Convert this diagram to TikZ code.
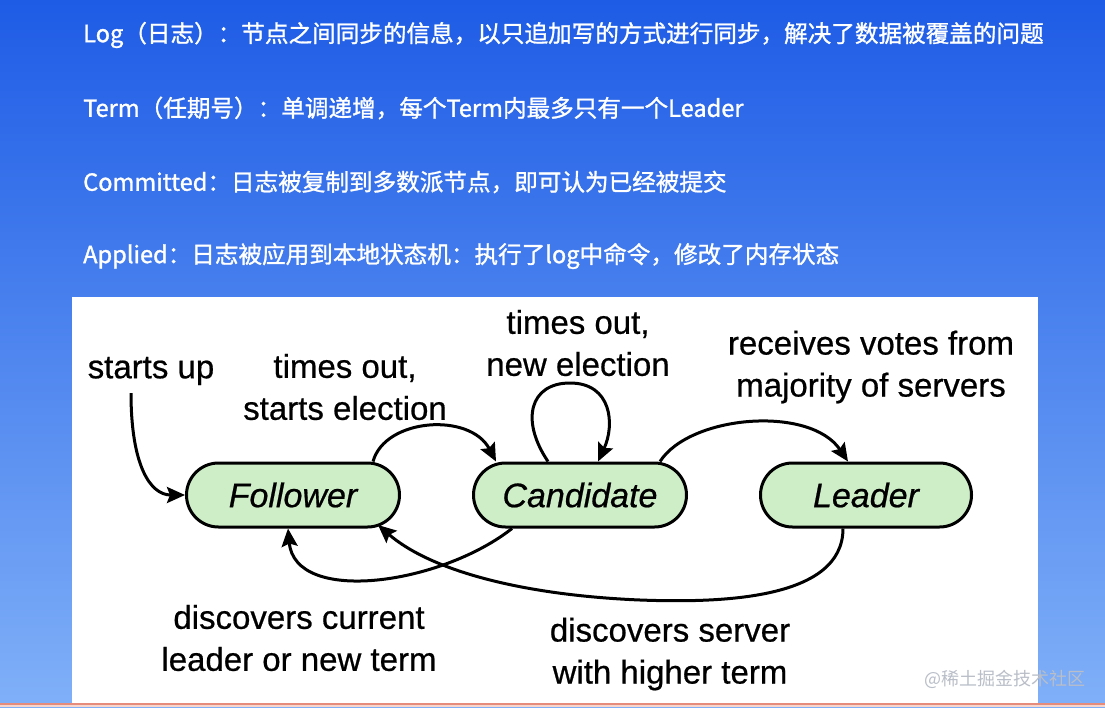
\documentclass[tikz,border=0pt]{standalone}
\usepackage{fontspec}
\setmainfont{Liberation Sans}
\newfontfamily\cjk[FakeBold=1.2]{Noto Sans CJK SC}
\newfontfamily\cjkw{Noto Sans CJK SC}
\newfontfamily\diag[FakeBold=0.6]{Liberation Sans}
\usetikzlibrary{arrows.meta}
\definecolor{bgtop}{RGB}{30,92,230}
\definecolor{bgbot}{RGB}{128,176,248}
\definecolor{nodegreen}{RGB}{206,238,200}
\definecolor{wmark}{RGB}{185,190,200}
\definecolor{redline}{RGB}{230,140,125}
\definecolor{pinkline}{RGB}{246,214,205}
\tikzset{
  toptext/.style={anchor=west,text=white,font=\cjk\fontsize{23.6}{27}\selectfont,inner sep=0pt},
  state/.style={draw=black,line width=3pt,fill=nodegreen,rounded corners=32pt,
    minimum width=213pt,minimum height=64pt,inner sep=0pt,
    font=\diag\itshape\fontsize{34}{40}\selectfont},
  lbl/.style={align=center,font=\diag\fontsize{33}{42}\selectfont,inner sep=0pt},
  arr/.style={line width=3pt,-{Stealth[length=18pt,width=16pt,inset=3pt]}},
}
\begin{document}
\begin{tikzpicture}[x=1pt,y=-1pt]
\useasboundingbox (0,0) rectangle (1105,707);
% background
\shade[top color=bgtop,bottom color=bgbot] (0,0) rectangle (1105,707);
% top texts
\node[toptext] (t1) at (83,35) {Log（日志）：节点之间同步的信息，以只追加写的方式进行同步，解决了数据被覆盖的问题};
\node[toptext] (t2) at (83,108) {Term（任期号）：单调递增，每个Term内最多只有一个Leader};
\node[toptext] (t3) at (83,182) {Committed：日志被复制到多数派节点，即可认为已经被提交};
\node[toptext] (t4) at (83,256) {Applied：日志被应用到本地状态机：执行了log中命令，修改了内存状态};
% panel
\fill[white] (72,297) rectangle (1038,703);
\fill[redline] (0,703) rectangle (1105,705);
\fill[pinkline] (0,705) rectangle (1105,707);
% states
\node[state] (F) at (293,495) {Follower};
\node[state] (C) at (580,495) {Candidate};
\node[state,minimum width=211pt] (L) at (866,495) {Leader};
% labels
\node[lbl] (su) at (151,371) {starts up};
\node[lbl] (se) at (345,387) {times out,\\starts election};
\node[lbl] (ne) at (578,343) {times out,\\new election};
\node[lbl] (rv) at (871,367) {receives votes from\\majority of servers};
\node[lbl] (dc) at (299,638) {discovers current\\leader or new term};
\node[lbl] (ds) at (670,654) {discovers server\\with higher term};
% connectors
\coordinate (s0) at (131,393);
\draw[arr] (s0) .. controls (131,465) and (150,495) .. (F.west);
\draw[arr] ([xshift=80pt]F.north) .. controls (385,418) and (470,412) .. ([xshift=-84pt]C.north);
\draw[arr] ([xshift=-32pt]C.north) .. controls (520,420) and (530,383) .. (570,383)
   .. controls (612,383) and (615,425) .. ([xshift=18pt]C.north);
\draw[arr] ([xshift=80pt]C.north) .. controls (690,415) and (810,405) .. ([xshift=-18pt]L.north);
\draw[arr] ([xshift=-68pt]C.south) .. controls (440,585) and (295,605) .. ([xshift=-5pt]F.south);
\draw[arr] ([xshift=-23pt]L.south) .. controls (843,600) and (720,603) .. (640,600)
   .. controls (520,595) and (430,570) .. ([xshift=85pt,yshift=-30pt]F.center);
% watermark
\node[text=wmark,font=\cjkw\fontsize{18}{20}\selectfont,inner sep=0pt] (wm) at (1005,679) {@稀土掘金技术社区};
\end{tikzpicture}
\end{document}
